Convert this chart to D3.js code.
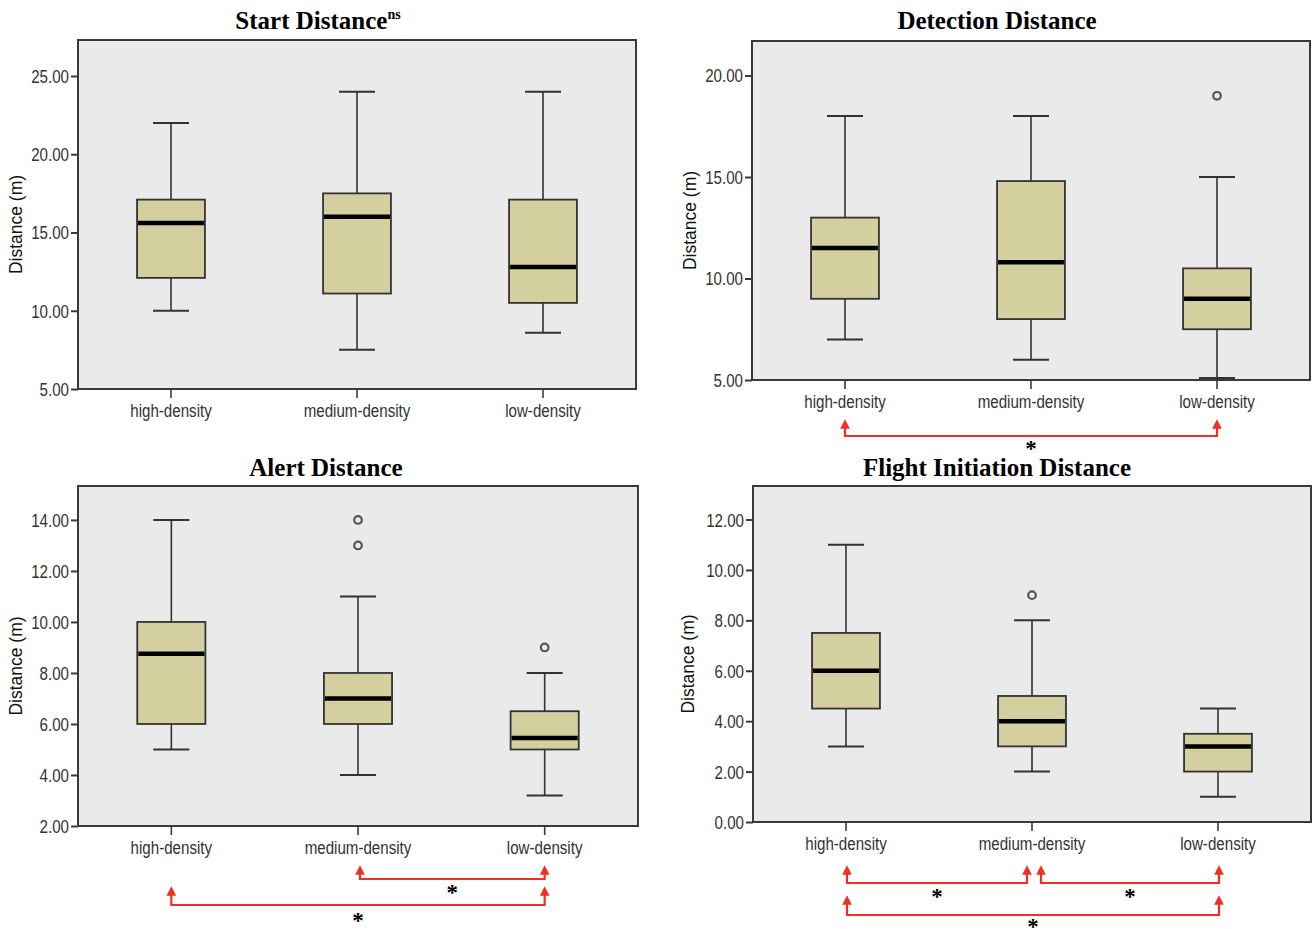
<!DOCTYPE html>
<html><head><meta charset="utf-8">
<script src="https://cdn.jsdelivr.net/npm/d3@7"></script>
<style>
html,body{margin:0;padding:0;background:#fff;}
svg{display:block;}
</style></head>
<body>
<svg id="chart" width="1312" height="929"></svg>
<script>
// ---------- DATA ----------
const categories = ["high-density", "medium-density", "low-density"];

// five-number summaries per category: [whiskerLow, q1, median, q3, whiskerHigh]
const startDistance     = [[10, 12.1, 15.6, 17.1, 22], [7.5, 11.1, 16.0, 17.5, 24], [8.6, 10.5, 12.8, 17.1, 24]];
const startOutliers     = [[], [], []];
const detectionDistance = [[7, 9, 11.5, 13, 18], [6, 8, 10.8, 14.8, 18], [5.1, 7.5, 9, 10.5, 15]];
const detectionOutliers = [[], [], [19]];
const alertDistance     = [[5, 6, 8.75, 10, 14], [4, 6, 7, 8, 11], [3.2, 5, 5.45, 6.5, 8]];
const alertOutliers     = [[], [13, 14], [9]];
const fidDistance       = [[3, 4.5, 6, 7.5, 11], [2, 3, 4, 5, 8], [1, 2, 3, 3.5, 4.5]];
const fidOutliers       = [[], [9], []];

const startTicks     = [5, 10, 15, 20, 25];
const detectionTicks = [5, 10, 15, 20];
const alertTicks     = [2, 4, 6, 8, 10, 12, 14];
const fidTicks       = [0, 2, 4, 6, 8, 10, 12];

// significant pairwise comparisons [from, to]
const startPairs     = [];
const detectionPairs = [[0, 2]];
const alertPairs     = [[1, 2], [0, 2]];
const fidPairs       = [[0, 1], [1, 2], [0, 2]];

// ---------- LAYOUT ----------
const panels = [
  {title: "Start Distance", sup: "ns", stats: startDistance, outliers: startOutliers, ticks: startTicks, pairs: startPairs,
   domain: [5, 27.3], left: 78, right: 636, top: 40, bottom: 389, titleX: 318, titleY: 29, yLabelX: 22,
   bracketGeom: []},
  {title: "Detection Distance", sup: "", stats: detectionDistance, outliers: detectionOutliers, ticks: detectionTicks, pairs: detectionPairs,
   domain: [5, 21.7], left: 752, right: 1310, top: 41, bottom: 380, titleX: 997, titleY: 29, yLabelX: 696,
   bracketGeom: [{tip: 40, h: 56, star: 65, dx1: 0, dx2: 0}]},
  {title: "Alert Distance", sup: "", stats: alertDistance, outliers: alertOutliers, ticks: alertTicks, pairs: alertPairs,
   domain: [2, 15.33], left: 78, right: 638, top: 486, bottom: 826, titleX: 326, titleY: 476, yLabelX: 22,
   bracketGeom: [{tip: 40, h: 53, star: 63, dx1: 2, dx2: 0}, {tip: 61, h: 79, star: 91, dx1: 0, dx2: 0}]},
  {title: "Flight Initiation Distance", sup: "", stats: fidDistance, outliers: fidOutliers, ticks: fidTicks, pairs: fidPairs,
   domain: [0, 13.33], left: 753, right: 1311, top: 486, bottom: 822, titleX: 997, titleY: 476, yLabelX: 694,
   bracketGeom: [{tip: 44, h: 61, star: 71, dx1: 1, dx2: -5}, {tip: 44, h: 61, star: 71, dx1: 9, dx2: 1}, {tip: 74, h: 93, star: 101, dx1: 1, dx2: 1}]}
];

const svg = d3.select("#chart");
const defs = svg.append("defs");
defs.append("marker").attr("id", "arrowRed")
  .attr("viewBox", "0 0 10 10").attr("refX", 5).attr("refY", 5)
  .attr("markerWidth", 4.4).attr("markerHeight", 4.4)
  .attr("markerUnits", "strokeWidth")
  .attr("orient", "auto-start-reverse")
  .append("path").attr("d", "M0,0 L10,5 L0,10 Z").attr("fill", "#ee3124");

const tickFont = "'Liberation Sans', Arial, sans-serif";
const fmt = d3.format(".2f");

function condense(sel, k) {
  sel.each(function () {
    const len = this.getComputedTextLength();
    d3.select(this).attr("textLength", len * k).attr("lengthAdjust", "spacingAndGlyphs");
  });
}

panels.forEach(p => {
  const g = svg.append("g");
  const x = d3.scaleBand().domain(categories).range([p.left, p.right]).padding(0);
  const y = d3.scaleLinear().domain(p.domain).range([p.bottom, p.top]);
  const bw = x.bandwidth() * 0.365;
  const cap = bw * 0.53;

  // background
  g.append("rect").attr("x", p.left).attr("y", p.top)
    .attr("width", p.right - p.left).attr("height", p.bottom - p.top)
    .attr("fill", "#eaeaea").attr("stroke", "#3a3a3a").attr("stroke-width", 2);

  // y axis
  const yAxis = d3.axisLeft(y).tickValues(p.ticks).tickFormat(fmt).tickSize(7).tickSizeOuter(0);
  const ya = g.append("g").attr("transform", `translate(${p.left},0)`).call(yAxis);
  ya.select(".domain").remove();
  ya.selectAll(".tick line").attr("stroke", "#3a3a3a").attr("stroke-width", 2);
  ya.selectAll(".tick text").attr("font-family", tickFont).attr("font-size", 18)
    .attr("fill", "#333").attr("x", -9).attr("dy", "0.36em").call(condense, 0.84);

  // x axis
  const xAxis = d3.axisBottom(x).tickSize(9).tickSizeOuter(0);
  const xa = g.append("g").attr("transform", `translate(0,${p.bottom})`).call(xAxis);
  xa.select(".domain").remove();
  xa.selectAll(".tick line").attr("stroke", "#3a3a3a").attr("stroke-width", 1.6);
  xa.selectAll(".tick text").attr("font-family", tickFont).attr("font-size", 18)
    .attr("fill", "#333").attr("y", 15).call(condense, 0.84);

  // y label
  g.append("text").attr("transform", `translate(${p.yLabelX},${(p.top + p.bottom) / 2 + 10}) rotate(-90)`)
    .attr("text-anchor", "middle").attr("font-family", "'Liberation Sans', Arial, sans-serif")
    .attr("font-size", 17.5).attr("fill", "#111").text("Distance (m)");

  // title
  const t = g.append("text").attr("x", p.titleX).attr("y", p.titleY).attr("text-anchor", "middle")
    .attr("font-family", "'Liberation Serif', 'Times New Roman', serif").attr("font-weight", "bold")
    .attr("font-size", 25).attr("fill", "#000");
  t.append("tspan").text(p.title);
  if (p.sup) t.append("tspan").attr("font-size", 14).attr("dy", -10).text(p.sup);

  // boxes
  p.stats.forEach((s, i) => {
    const cx = x(categories[i]) + x.bandwidth() / 2;
    const [lo, q1, med, q3, hi] = s;
    const bg = g.append("g");
    bg.append("line").attr("x1", cx).attr("x2", cx).attr("y1", y(hi)).attr("y2", y(q3))
      .attr("stroke", "#333").attr("stroke-width", 1.6);
    bg.append("line").attr("x1", cx).attr("x2", cx).attr("y1", y(q1)).attr("y2", y(lo))
      .attr("stroke", "#333").attr("stroke-width", 1.6);
    bg.append("line").attr("x1", cx - cap / 2).attr("x2", cx + cap / 2).attr("y1", y(hi)).attr("y2", y(hi))
      .attr("stroke", "#333").attr("stroke-width", 2);
    bg.append("line").attr("x1", cx - cap / 2).attr("x2", cx + cap / 2).attr("y1", y(lo)).attr("y2", y(lo))
      .attr("stroke", "#333").attr("stroke-width", 2);
    bg.append("rect").attr("x", cx - bw / 2).attr("y", y(q3)).attr("width", bw).attr("height", y(q1) - y(q3))
      .attr("fill", "#d3cf9f").attr("stroke", "#333").attr("stroke-width", 1.8);
    bg.append("line").attr("x1", cx - bw / 2 + 1).attr("x2", cx + bw / 2 - 1).attr("y1", y(med)).attr("y2", y(med))
      .attr("stroke", "#000").attr("stroke-width", 4.5);
    p.outliers[i].forEach(v => {
      bg.append("circle").attr("cx", cx).attr("cy", y(v)).attr("r", 3.8)
        .attr("fill", "none").attr("stroke", "#555").attr("stroke-width", 2.2);
    });
  });

  // significance brackets
  p.pairs.forEach((pr, k) => {
    const geom = p.bracketGeom[k];
    const xa1 = x(categories[pr[0]]) + x.bandwidth() / 2 + geom.dx1;
    const xa2 = x(categories[pr[1]]) + x.bandwidth() / 2 + geom.dx2;
    const yTip = p.bottom + geom.tip, yH = p.bottom + geom.h;
    g.append("path")
      .attr("d", `M${xa1},${yTip + 4} L${xa1},${yH} L${xa2},${yH} L${xa2},${yTip + 4}`)
      .attr("fill", "none").attr("stroke", "#ee3124").attr("stroke-width", 2.2)
      .attr("marker-start", "url(#arrowRed)").attr("marker-end", "url(#arrowRed)");
    g.append("text").attr("x", (xa1 + xa2) / 2).attr("y", p.bottom + geom.star + 11)
      .attr("text-anchor", "middle").attr("font-family", "'Liberation Serif', serif")
      .attr("font-weight", "bold").attr("font-size", 23).attr("fill", "#000").text("*");
  });
});
</script>
</body></html>
